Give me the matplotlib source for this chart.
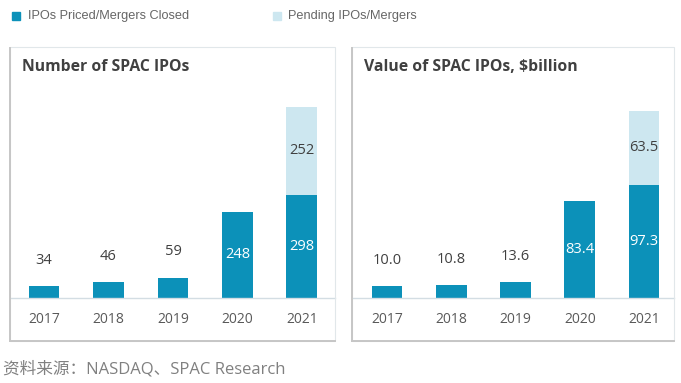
import numpy as np
import matplotlib.pyplot as plt
from matplotlib.patches import Rectangle
from matplotlib.lines import Line2D

plt.rcParams['font.family'] = ['Open Sans', 'Noto Sans CJK SC', 'DejaVu Sans']

years = ['2017', '2018', '2019', '2020', '2021']
num_closed = [34, 46, 59, 248, 298]
num_pending = [0, 0, 0, 0, 252]
val_closed = [10.0, 10.8, 13.6, 83.4, 97.3]
val_pending = [0, 0, 0, 0, 63.5]

dark = '#0c91b9'
light = '#cde7f0'
txt = '#404040'

W, H = 681, 383
fig = plt.figure(figsize=(6.81, 3.83), dpi=100)


def fx(px):
    return px / W


def fy(py):
    return 1 - py / H


def panel(x0, x1, xlim, title, closed, pending, ytop, fmt):
    # box around each panel: thin light edge, gray shadow on left and bottom
    fig.patches.append(Rectangle((fx(x0), fy(341)), fx(x1) - fx(x0), fy(47) - fy(341),
                                 transform=fig.transFigure, fill=False, ec='#e1e7ea', lw=0.8))
    fig.lines.append(Line2D([fx(x0), fx(x0)], [fy(341), fy(48)], transform=fig.transFigure,
                            color='#c6c6c6', lw=1.4))
    fig.lines.append(Line2D([fx(x0), fx(x1)], [fy(341), fy(341)], transform=fig.transFigure,
                            color='#c6c6c6', lw=1.4))
    ax = fig.add_axes([fx(x0), fy(298), fx(x1) - fx(x0), fy(80) - fy(298)])
    x = np.arange(len(years))
    ax.bar(x, closed, width=0.48, color=dark)
    ax.bar(x, pending, width=0.48, bottom=closed, color=light)
    ax.set_xlim(*xlim)
    ax.set_ylim(0, ytop)
    ax.axhline(0, color='#d3dde3', lw=1, clip_on=False)
    for s in ax.spines.values():
        s.set_visible(False)
    ax.set_yticks([])
    ax.set_xticks(x)
    ax.set_xticklabels(years, fontsize=10, color='#595959')
    ax.tick_params(axis='x', length=0, pad=10)
    for i in range(len(years)):
        c = closed[i]
        if c > ytop * 0.3:
            ax.text(i, c / 2, fmt.format(c), ha='center', va='center',
                    color='white', fontsize=10.5)
        else:
            ax.annotate(fmt.format(c), (i, c), xytext=(0, 26), textcoords='offset pixels',
                        ha='center', va='center', color=txt, fontsize=10.5)
        if pending[i] > 0:
            ax.text(i, c + pending[i] / 2, fmt.format(pending[i]), ha='center', va='center',
                    color=txt, fontsize=10.5)
    fig.text(fx(x0 + 12), fy(67), title, ha='left', va='center', fontsize=11.3,
             fontweight='bold', color=txt)
    return ax


panel(10, 335, (-0.527, 4.512), 'Number of SPAC IPOs', num_closed, num_pending, 628, '{:d}')
panel(352, 674, (-0.545, 4.467), 'Value of SPAC IPOs, $billion', val_closed, val_pending, 187.5, '{:.1f}')

# legend at top
fig.patches.append(Rectangle((fx(12), fy(20)), fx(8), 8 / H, transform=fig.transFigure, color=dark))
fig.text(fx(28), fy(16), 'IPOs Priced/Mergers Closed', ha='left', va='center',
         fontsize=9.2, color='#666666', family='Liberation Sans')
fig.patches.append(Rectangle((fx(273), fy(20)), fx(8), 8 / H, transform=fig.transFigure, color=light))
fig.text(fx(288), fy(16), 'Pending IPOs/Mergers', ha='left', va='center',
         fontsize=9.2, color='#666666', family='Liberation Sans')

# source
fig.text(fx(3), fy(369), '资料来源：NASDAQ、SPAC Research', ha='left', va='center',
         fontsize=12, color='#808080')

fig.savefig('out.png', dpi=100)
